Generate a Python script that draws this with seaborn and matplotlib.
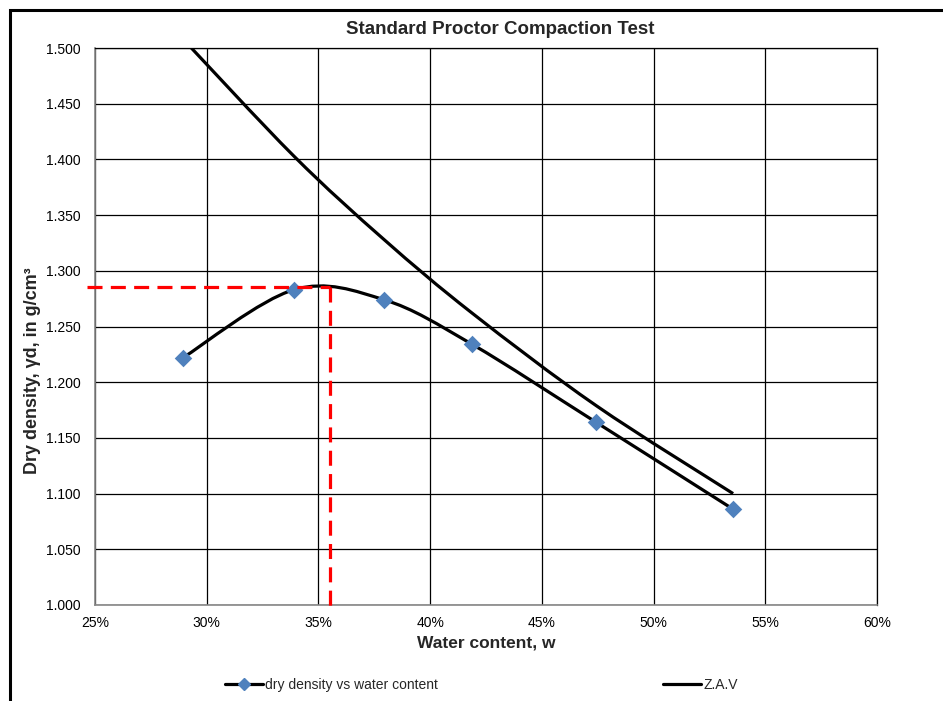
import numpy as np
import matplotlib
matplotlib.use("Agg")
import matplotlib.pyplot as plt
import seaborn as sns
from matplotlib.path import Path
from matplotlib.patches import PathPatch, Rectangle
from matplotlib.lines import Line2D
from matplotlib.ticker import PercentFormatter, FormatStrFormatter

# ---- data ----
water_content = [0.2894, 0.3390, 0.3794, 0.4188, 0.4743, 0.5356]
dry_density = [1.222, 1.283, 1.274, 1.234, 1.164, 1.086]
zav_density = [1.508, 1.403, 1.328, 1.262, 1.179, 1.100]
w_opt = 0.3552
gd_max = 1.2855

title = "Standard Proctor Compaction Test"
xlabel = "Water content, w"
ylabel = "Dry density, γd, in g/cm³"
series_names = ["dry density vs water content", "Z.A.V"]
x_ticks = [0.25, 0.30, 0.35, 0.40, 0.45, 0.50, 0.55, 0.60]
y_ticks = [1.000, 1.050, 1.100, 1.150, 1.200, 1.250, 1.300, 1.350, 1.400, 1.450, 1.500]

sns.set_theme(style="white")
plt.rcParams['font.family'] = ['Liberation Sans', 'DejaVu Sans']

W, H = 943, 701
fig = plt.figure(figsize=(W / 100, H / 100), dpi=100)
ax = fig.add_axes([95 / W, 1 - 605 / H, (877 - 95) / W, (605 - 48) / H])


def smooth_path(xs, ys):
    pts = np.column_stack([xs, ys]).astype(float)
    n = len(pts)
    verts = [pts[0]]
    codes = [Path.MOVETO]
    for i in range(n - 1):
        p0 = pts[i - 1] if i > 0 else pts[i]
        p1 = pts[i]
        p2 = pts[i + 1]
        p3 = pts[i + 2] if i + 2 < n else pts[i + 1]
        c1 = p1 + (p2 - p0) / 6.0
        c2 = p2 - (p3 - p1) / 6.0
        verts += [c1, c2, p2]
        codes += [Path.CURVE4] * 3
    return Path(verts, codes)


line_w = 2.3
blue = "#4F81BD"

ax.add_patch(PathPatch(smooth_path(water_content, zav_density), fill=False,
                       edgecolor="black", lw=line_w, zorder=3, capstyle="butt"))
ax.add_patch(PathPatch(smooth_path(water_content, dry_density), fill=False,
                       edgecolor="black", lw=line_w, zorder=3, capstyle="butt"))
sns.scatterplot(x=water_content, y=dry_density, marker="D", s=80, color=blue,
                edgecolor=blue, linewidth=0, zorder=4, ax=ax, legend=False)

# optimum lines
dash = (0, (4.7, 2.6))
ax.plot([0.2464, w_opt], [gd_max, gd_max], color="red", lw=line_w, ls=dash,
        clip_on=False, zorder=5)
ax.plot([w_opt, w_opt], [gd_max, 0.9937], color="red", lw=line_w, ls=dash,
        clip_on=False, zorder=5)

ax.set_xlim(0.25, 0.60)
ax.set_ylim(1.0, 1.5)
ax.set_xticks(x_ticks)
ax.set_yticks(y_ticks)
ax.xaxis.set_major_formatter(PercentFormatter(xmax=1.0, decimals=0))
ax.yaxis.set_major_formatter(FormatStrFormatter("%.3f"))
ax.tick_params(axis="both", length=0, labelsize=10, colors="black")
ax.tick_params(axis="y", pad=10.5)
ax.tick_params(axis="x", pad=8)
ax.grid(True, color="black", lw=0.9)
ax.set_axisbelow(True)
for side in ["left", "bottom"]:
    ax.spines[side].set_color("#868686")
    ax.spines[side].set_linewidth(1.2)
for side in ["top", "right"]:
    ax.spines[side].set_color("black")
    ax.spines[side].set_linewidth(0.9)

ax.set_xlabel(xlabel, fontsize=12.5, fontweight="bold", labelpad=4)
ax.set_ylabel(ylabel, fontsize=13, fontweight="bold")
ax.yaxis.set_label_coords((33 - 95) / 782, (605 - 371) / 557)
ax.yaxis.label.set_va("center")
ax.yaxis.label.set_ha("center")
fig.text(500 / W, 1 - 30 / H, title, fontsize=13.5, fontweight="bold",
         ha="center", va="center")

# legend
h1 = Line2D([], [], color="black", lw=line_w, marker="D", markersize=6,
            markerfacecolor=blue, markeredgecolor=blue)
h2 = Line2D([], [], color="black", lw=line_w)
for h, name, x0 in [(h1, series_names[0], 225), (h2, series_names[1], 663)]:
    fig.legend(handles=[h], labels=[name], loc="center left",
               bbox_to_anchor=(x0 / W, 1 - 685 / H), frameon=False,
               handlelength=2.7, handletextpad=0.2, borderpad=0,
               borderaxespad=0, fontsize=10)

# chart area border
fig.patches.append(Rectangle((10 / W, -0.1), 1.2, 1 - 10 / H + 0.1,
                             transform=fig.transFigure, fill=False,
                             edgecolor="black", lw=2.2))

fig.savefig("out.png", dpi=100)
